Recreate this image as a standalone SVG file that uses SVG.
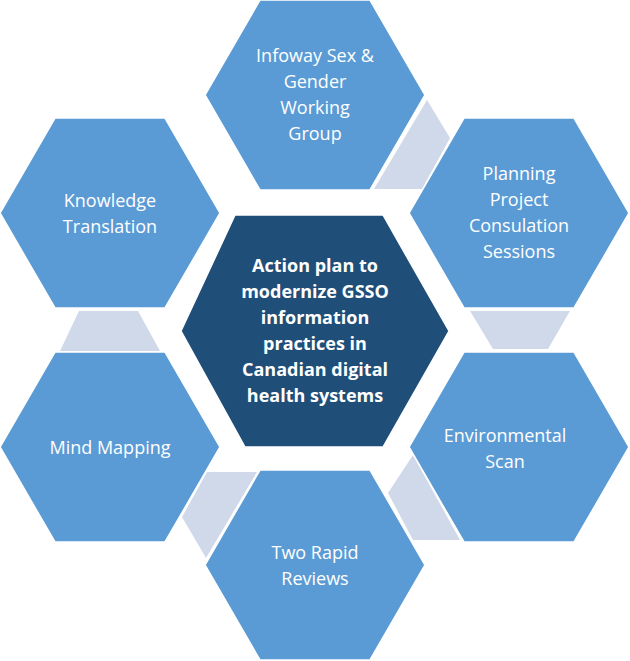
<svg xmlns="http://www.w3.org/2000/svg" width="630" height="661" viewBox="0 0 630 661">
<style>
.hex{fill:#5b9bd5;stroke:#fff;stroke-width:1.5}
.ctr{fill:#1f4e79;stroke:#fff;stroke-width:1.5}
.con{fill:#d0d9ea}
text{font-family:"Open Sans","Liberation Sans",sans-serif;font-size:18px;fill:#fff;text-anchor:middle}
.b{font-weight:bold}
</style>
<defs>
<polygon id="h" points="-110,0 -55,-95 55,-95 110,0 55,95 -55,95"/>
</defs>
<g id="connectors">
<polygon class="con" points="427,100 450,138 422,189 374,189"/>
<polygon class="con" points="470,311 570,311 548,349 493,349"/>
<polygon class="con" points="413,455 388,493 413,540 460,540"/>
<polygon class="con" points="207,472 257,472 206,558 182,517"/>
<polygon class="con" points="79,311 138,311 160,351 60,351"/>
</g>
<g id="center">
<polygon class="ctr" points="181,331 235,215 383,215 449,331 383,447 245,447"/>
<text class="b" x="315" y="272">Action plan to</text>
<text class="b" x="315" y="298">modernize GSSO</text>
<text class="b" x="315" y="324">information</text>
<text class="b" x="315" y="350">practices in</text>
<text class="b" x="315" y="376">Canadian digital</text>
<text class="b" x="315" y="402">health systems</text>
</g>
<g id="infoway">
<use href="#h" class="hex" x="315" y="95"/>
<text x="315" y="62">Infoway Sex &amp;</text>
<text x="315" y="88">Gender</text>
<text x="315" y="114">Working</text>
<text x="315" y="140">Group</text>
</g>
<g id="planning">
<use href="#h" class="hex" x="519" y="213"/>
<text x="519" y="180">Planning</text>
<text x="519" y="206">Project</text>
<text x="519" y="232">Consulation</text>
<text x="519" y="258">Sessions</text>
</g>
<g id="environmental">
<use href="#h" class="hex" x="519" y="447"/>
<text x="505" y="442">Environmental</text>
<text x="505" y="468">Scan</text>
</g>
<g id="rapid">
<use href="#h" class="hex" x="315" y="565"/>
<text x="315" y="559">Two Rapid</text>
<text x="315" y="585">Reviews</text>
</g>
<g id="mind">
<use href="#h" class="hex" x="110" y="447"/>
<text x="110" y="454">Mind Mapping</text>
</g>
<g id="knowledge">
<use href="#h" class="hex" x="110" y="213"/>
<text x="110" y="207">Knowledge</text>
<text x="110" y="233">Translation</text>
</g>
</svg>
